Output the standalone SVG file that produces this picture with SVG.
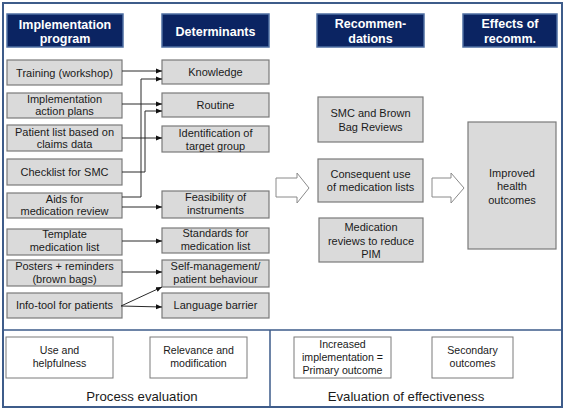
<svg xmlns="http://www.w3.org/2000/svg" width="567" height="410" viewBox="0 0 567 410">
<style>
text{font-family:"Liberation Sans",Arial,sans-serif;text-anchor:middle;fill:#1a1a1a}
.hd rect{fill:#0b2462;stroke:#4f6fa3;stroke-width:1.5}
.hd text{fill:#fff;font-weight:bold;font-size:12.5px}
.nd rect{fill:#dadada;stroke:#7a7a7a;stroke-width:1.2}
.nd text{font-size:11px}
.ev rect{fill:#fff;stroke:#7a7a7a;stroke-width:1}
.ev text{font-size:10.6px}
.lbl{font-size:13.2px}
.frame{fill:#fff;stroke:#3e5c8a;stroke-width:2}
.div{stroke:#3e5c8a;stroke-width:1.5;fill:none}
#connectors path{fill:none;stroke:#2a2a2a;stroke-width:1;marker-end:url(#ah)}
.big{fill:#fff;stroke:#8a8a8a;stroke-width:1}
</style>
<defs>
<marker id="ah" markerUnits="userSpaceOnUse" markerWidth="6" markerHeight="6" refX="6" refY="3" orient="auto">
<path d="M0,0.5 L6,3 L0,5.5 Z" fill="#111"/>
</marker>
</defs>
<rect class="frame" x="3" y="3" width="559" height="404"/>
<path class="div" d="M3,330 H562 M270,330 V407"/>

<g id="h-impl" class="hd"><rect x="7" y="14" width="116" height="33"/><text x="65" y="29">Implementation</text><text x="65" y="43">program</text></g>
<g id="h-det" class="hd"><rect x="162" y="14" width="107" height="33"/><text x="215.5" y="36">Determinants</text></g>
<g id="h-rec" class="hd"><rect x="317" y="14" width="107" height="33"/><text x="370.5" y="28">Recommen-</text><text x="370.5" y="43">dations</text></g>
<g id="h-eff" class="hd"><rect x="463" y="14" width="94" height="33"/><text x="510" y="28">Effects of</text><text x="510" y="43">recomm.</text></g>

<g id="n-training" class="nd"><rect x="7" y="60" width="115" height="25"/><text x="64.5" y="76.5">Training (workshop)</text></g>
<g id="n-plans" class="nd"><rect x="7" y="93" width="115" height="25"/><text x="64.5" y="102.5">Implementation</text><text x="64.5" y="115">action plans</text></g>
<g id="n-patlist" class="nd"><rect x="7" y="125" width="115" height="26"/><text x="64.5" y="135.5">Patient list based on</text><text x="64.5" y="148">claims data</text></g>
<g id="n-checklist" class="nd"><rect x="7" y="159" width="115" height="26"/><text x="64.5" y="176">Checklist for SMC</text></g>
<g id="n-aids" class="nd"><rect x="7" y="193" width="115" height="25"/><text x="64.5" y="202.5">Aids for</text><text x="64.5" y="215">medication review</text></g>
<g id="n-template" class="nd"><rect x="7" y="229" width="115" height="26"/><text x="64.5" y="238">Template</text><text x="64.5" y="250.5">medication list</text></g>
<g id="n-posters" class="nd"><rect x="7" y="260" width="115" height="26"/><text x="64.5" y="270">Posters + reminders</text><text x="64.5" y="283">(brown bags)</text></g>
<g id="n-info" class="nd"><rect x="7" y="293" width="115" height="25"/><text x="64.5" y="308.5">Info-tool for patients</text></g>

<g id="n-knowledge" class="nd"><rect x="162" y="60" width="107" height="24"/><text x="215.5" y="76">Knowledge</text></g>
<g id="n-routine" class="nd"><rect x="162" y="93" width="107" height="24"/><text x="215.5" y="108.5">Routine</text></g>
<g id="n-ident" class="nd"><rect x="162" y="126" width="107" height="26"/><text x="215.5" y="137">Identification of</text><text x="215.5" y="150">target group</text></g>
<g id="n-feas" class="nd"><rect x="162" y="191" width="107" height="27"/><text x="215.5" y="201">Feasibility of</text><text x="215.5" y="214">instruments</text></g>
<g id="n-stand" class="nd"><rect x="162" y="228" width="107" height="25"/><text x="215.5" y="237">Standards for</text><text x="215.5" y="250">medication list</text></g>
<g id="n-self" class="nd"><rect x="162" y="260" width="107" height="27"/><text x="215.5" y="270">Self-management/</text><text x="215.5" y="283">patient behaviour</text></g>
<g id="n-lang" class="nd"><rect x="162" y="293" width="107" height="25"/><text x="215.5" y="308.5">Language barrier</text></g>

<g id="n-smc" class="nd"><rect x="318" y="97" width="105" height="45"/><text x="370.5" y="117">SMC and Brown</text><text x="370.5" y="130.5">Bag Reviews</text></g>
<g id="n-conseq" class="nd"><rect x="318" y="159" width="105" height="43"/><text x="370.5" y="178">Consequent use</text><text x="370.5" y="191">of medication lists</text></g>
<g id="n-medrev" class="nd"><rect x="319" y="218" width="104" height="44"/><text x="371" y="231">Medication</text><text x="371" y="244.5">reviews to reduce</text><text x="371" y="257.5">PIM</text></g>
<g id="n-improved" class="nd"><rect x="468" y="122" width="88" height="127"/><text x="512" y="177">Improved</text><text x="512" y="190">health</text><text x="512" y="203.5">outcomes</text></g>

<g id="n-arrow1"><polygon class="big" points="276,178 297,178 297,173 309,188 297,203 297,197 276,197"/></g>
<g id="n-arrow2"><polygon class="big" points="432,178 451,178 451,173 464,188 451,203 451,197 432,197"/></g>

<g id="e-use" class="ev"><rect x="6" y="337" width="107" height="41"/><text x="59.5" y="354">Use and</text><text x="59.5" y="367">helpfulness</text></g>
<g id="e-rel" class="ev"><rect x="150" y="337" width="97" height="41"/><text x="198.5" y="354">Relevance and</text><text x="198.5" y="367">modification</text></g>
<g id="e-inc" class="ev"><rect x="294" y="337" width="97" height="41"/><text x="342.5" y="347.5">Increased</text><text x="342.5" y="361">implementation =</text><text x="342.5" y="374">Primary outcome</text></g>
<g id="e-sec" class="ev"><rect x="432" y="337" width="81" height="41"/><text x="472.5" y="354">Secondary</text><text x="472.5" y="367">outcomes</text></g>
<text class="lbl" x="142" y="401">Process evaluation</text>
<text class="lbl" x="406" y="401">Evaluation of effectiveness</text>

<g id="connectors">
<path d="M122,71 H162"/>
<path d="M122,197 H141 V79 H162"/>
<path d="M122,104 H162"/>
<path d="M122,172 H145 V111 H162"/>
<path d="M122,138 H162"/>
<path d="M122,207 H162"/>
<path d="M122,241 H162"/>
<path d="M122,272 H162"/>
<path d="M121,306 L162,287"/>
<path d="M121,306 L162,307"/>
</g>
</svg>
